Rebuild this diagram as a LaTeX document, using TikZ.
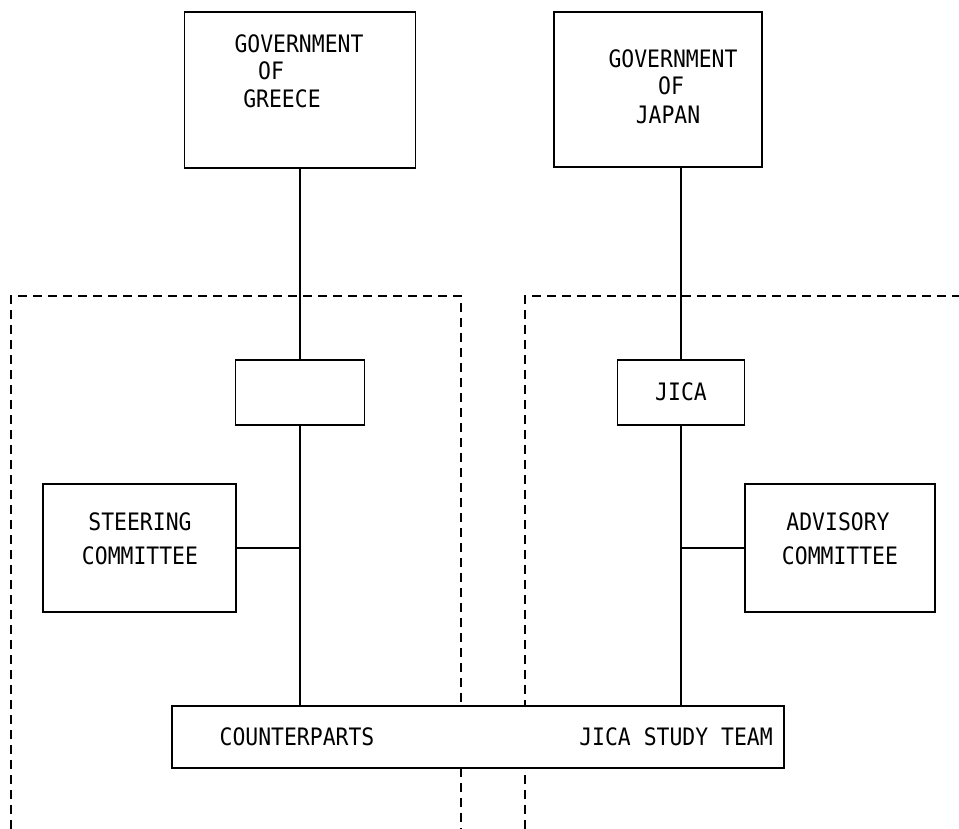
\documentclass[tikz,border=0pt]{standalone}
\usepackage{fontspec}
\setmonofont{DejaVu Sans Mono}
\begin{document}
\begin{tikzpicture}[x=1bp,y=-1bp,
  box/.style={draw, line width=1.8bp, inner sep=0pt},
  txt/.style={font=\fontsize{21.5}{24}\selectfont\ttfamily, inner sep=0pt, yscale=1.12, transform shape},
  conn/.style={line width=1.8bp},
  dashline/.style={line width=1.7bp, dash pattern=on 9bp off 6bp}]
\useasboundingbox (0,0) rectangle (959,829);
% dashed regions
\coordinate (la) at (11,829);
\coordinate (lb) at (11,296);
\coordinate (lc) at (461,296);
\coordinate (ld) at (461,829);
\coordinate (ra) at (525,829);
\coordinate (rb) at (525,296);
\coordinate (rc) at (959,296);
\draw[dashline] (la) -- (lb) -- (lc) -- (ld);
\draw[dashline] (ra) -- (rb) -- (rc);
% boxes
\node[box, minimum width=231bp, minimum height=156bp] (gg) at (300,90) {};
\node[box, minimum width=208bp, minimum height=155bp] (gj) at (658,89.5) {};
\node[box, minimum width=129bp, minimum height=65bp] (sb) at (300,392.5) {};
\node[box, minimum width=127bp, minimum height=65bp] (jica) at (681,392.5) {};
\node[box, minimum width=193bp, minimum height=128bp] (st) at (139.5,548) {};
\node[box, minimum width=190bp, minimum height=128bp] (ad) at (840,548) {};
\node[box, fill=white, minimum width=612bp, minimum height=62bp] (bar) at (478,737) {};
% texts
\node[txt] (g1) at (299,44) {GOVERNMENT};
\node[txt] (g2) at (271,71) {OF};
\node[txt] (g3) at (282,99) {GREECE};
\node[txt] (j1) at (673,59) {GOVERNMENT};
\node[txt] (j2) at (671,86) {OF};
\node[txt] (j3) at (668,115) {JAPAN};
\node[txt] (jt) at (681,392) {JICA};
\node[txt] (s1) at (140,522) {STEERING};
\node[txt] (s2) at (140,556) {COMMITTEE};
\node[txt] (a1) at (838,522) {ADVISORY};
\node[txt] (a2) at (840,556) {COMMITTEE};
\node[txt] (cp) at (297,737) {COUNTERPARTS};
\node[txt] (jst) at (676,737) {JICA STUDY TEAM};
% connectors
\draw[conn] (sb.north |- gg.south) -- (sb.north);
\draw[conn] (sb.south) -- (sb.south |- bar.north);
\draw[conn] (jica.north |- gj.south) -- (jica.north);
\draw[conn] (jica.south) -- (jica.south |- bar.north);
\draw[conn] (st.east) -- (st.east -| sb.south);
\draw[conn] (ad.west) -- (ad.west -| jica.south);
\end{tikzpicture}
\end{document}
